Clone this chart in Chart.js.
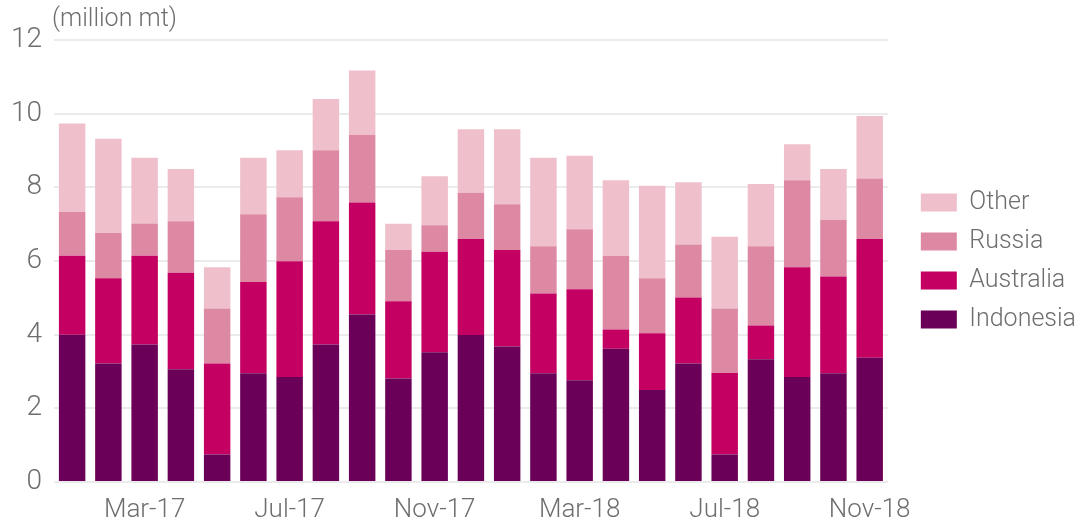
<!DOCTYPE html>
<html>
<head>
<meta charset="utf-8">
<script src="https://cdn.jsdelivr.net/npm/chart.js@4"></script>
<style>
  html, body { margin: 0; padding: 0; background: #fff; }
  #wrap { width: 1084px; height: 524px; position: relative; }
</style>
</head>
<body>
<div id="wrap"><canvas id="imports"></canvas></div>
<script>
// monthly imports, Jan-17 .. Nov-18
const months = ["Jan-17", "Feb-17", "Mar-17", "Apr-17", "May-17", "Jun-17", "Jul-17", "Aug-17",
  "Sep-17", "Oct-17", "Nov-17", "Dec-17", "Jan-18", "Feb-18", "Mar-18", "Apr-18", "May-18",
  "Jun-18", "Jul-18", "Aug-18", "Sep-18", "Oct-18", "Nov-18"];

const indonesia = [4.0, 3.22, 3.73, 3.06, 0.75, 2.95, 2.85, 3.73, 4.55, 2.81, 3.52, 3.99,
  3.68, 2.95, 2.76, 3.62, 2.5, 3.22, 0.75, 3.33, 2.85, 2.95, 3.37];
const australia = [2.14, 2.31, 2.41, 2.62, 2.47, 2.48, 3.14, 3.35, 3.04, 2.1, 2.73, 2.61,
  2.62, 2.17, 2.47, 0.52, 1.54, 1.79, 2.21, 0.92, 2.98, 2.63, 3.23];
const russia = [1.19, 1.23, 0.88, 1.4, 1.49, 1.84, 1.74, 1.93, 1.84, 1.39, 0.72, 1.25,
  1.24, 1.28, 1.63, 2.0, 1.49, 1.44, 1.75, 2.15, 2.36, 1.54, 1.64];
const other = [2.4, 2.56, 1.78, 1.42, 1.12, 1.53, 1.28, 1.39, 1.74, 0.71, 1.33, 1.73,
  2.04, 2.4, 2.0, 2.05, 2.51, 1.69, 1.95, 1.69, 0.98, 1.38, 1.7];

const yTicks = [0, 2, 4, 6, 8, 10, 12];
const unitLabel = "(million mt)";

const textColor = "#6e6e6e";
const fontFamily = "Roboto, 'Noto Sans', sans-serif";

// draws the unit text above the y axis
const unitPlugin = {
  id: "unitLabel",
  afterDraw(chart) {
    const ctx = chart.ctx;
    ctx.save();
    ctx.font = "300 25px " + fontFamily;
    ctx.fillStyle = textColor;
    ctx.textAlign = "left";
    ctx.textBaseline = "middle";
    ctx.fillText(unitLabel, chart.chartArea.left - 2, 20);
    ctx.restore();
  },
};

const ctx = document.getElementById("imports");
new Chart(ctx, {
  type: "bar",
  data: {
    labels: months,
    datasets: [
      { label: "Indonesia", data: indonesia, backgroundColor: "#6b0058" },
      { label: "Australia", data: australia, backgroundColor: "#c40062" },
      { label: "Russia", data: russia, backgroundColor: "#de89a4" },
      { label: "Other", data: other, backgroundColor: "#efbfcb" },
    ],
  },
  options: {
    responsive: true,
    maintainAspectRatio: false,
    animation: false,
    datasets: {
      bar: { categoryPercentage: 1, barPercentage: 0.73 },
    },
    layout: { padding: { top: 40, left: 0, right: -2, bottom: 0 } },
    scales: {
      x: {
        stacked: true,
        grid: { display: false, drawTicks: false },
        border: { display: false },
        afterFit: (axis) => { axis.height = 42; },
        ticks: {
          autoSkip: false,
          maxRotation: 0,
          padding: 13,
          color: textColor,
          font: { family: fontFamily, size: 26, weight: 300 },
          callback: function (value, index) {
            return index % 4 === 2 ? months[index] : "";
          },
        },
      },
      y: {
        stacked: true,
        min: 0,
        max: 12,
        afterBuildTicks: (axis) => {
          axis.ticks = yTicks.map((v) => ({ value: v }));
        },
        afterFit: (axis) => { axis.width = 54; },
        grid: { color: "#ebebeb", lineWidth: 2, drawTicks: false },
        border: { display: false },
        ticks: {
          padding: 12,
          color: textColor,
          font: { family: fontFamily, size: 28, weight: 300 },
        },
      },
      // empty spacer between the plot and the legend
      gap: {
        position: "right",
        display: true,
        afterFit: (axis) => { axis.width = 19; },
        grid: { display: false, drawTicks: false },
        border: { display: false },
        ticks: { display: false },
      },
    },
    plugins: {
      tooltip: { enabled: false },
      legend: {
        position: "right",
        fullSize: false,
        reverse: true,
        labels: {
          boxWidth: 36,
          boxHeight: 18,
          padding: 14,
          color: textColor,
          font: { family: fontFamily, size: 25, weight: 300 },
        },
      },
    },
  },
  plugins: [unitPlugin],
});
</script>
</body>
</html>
